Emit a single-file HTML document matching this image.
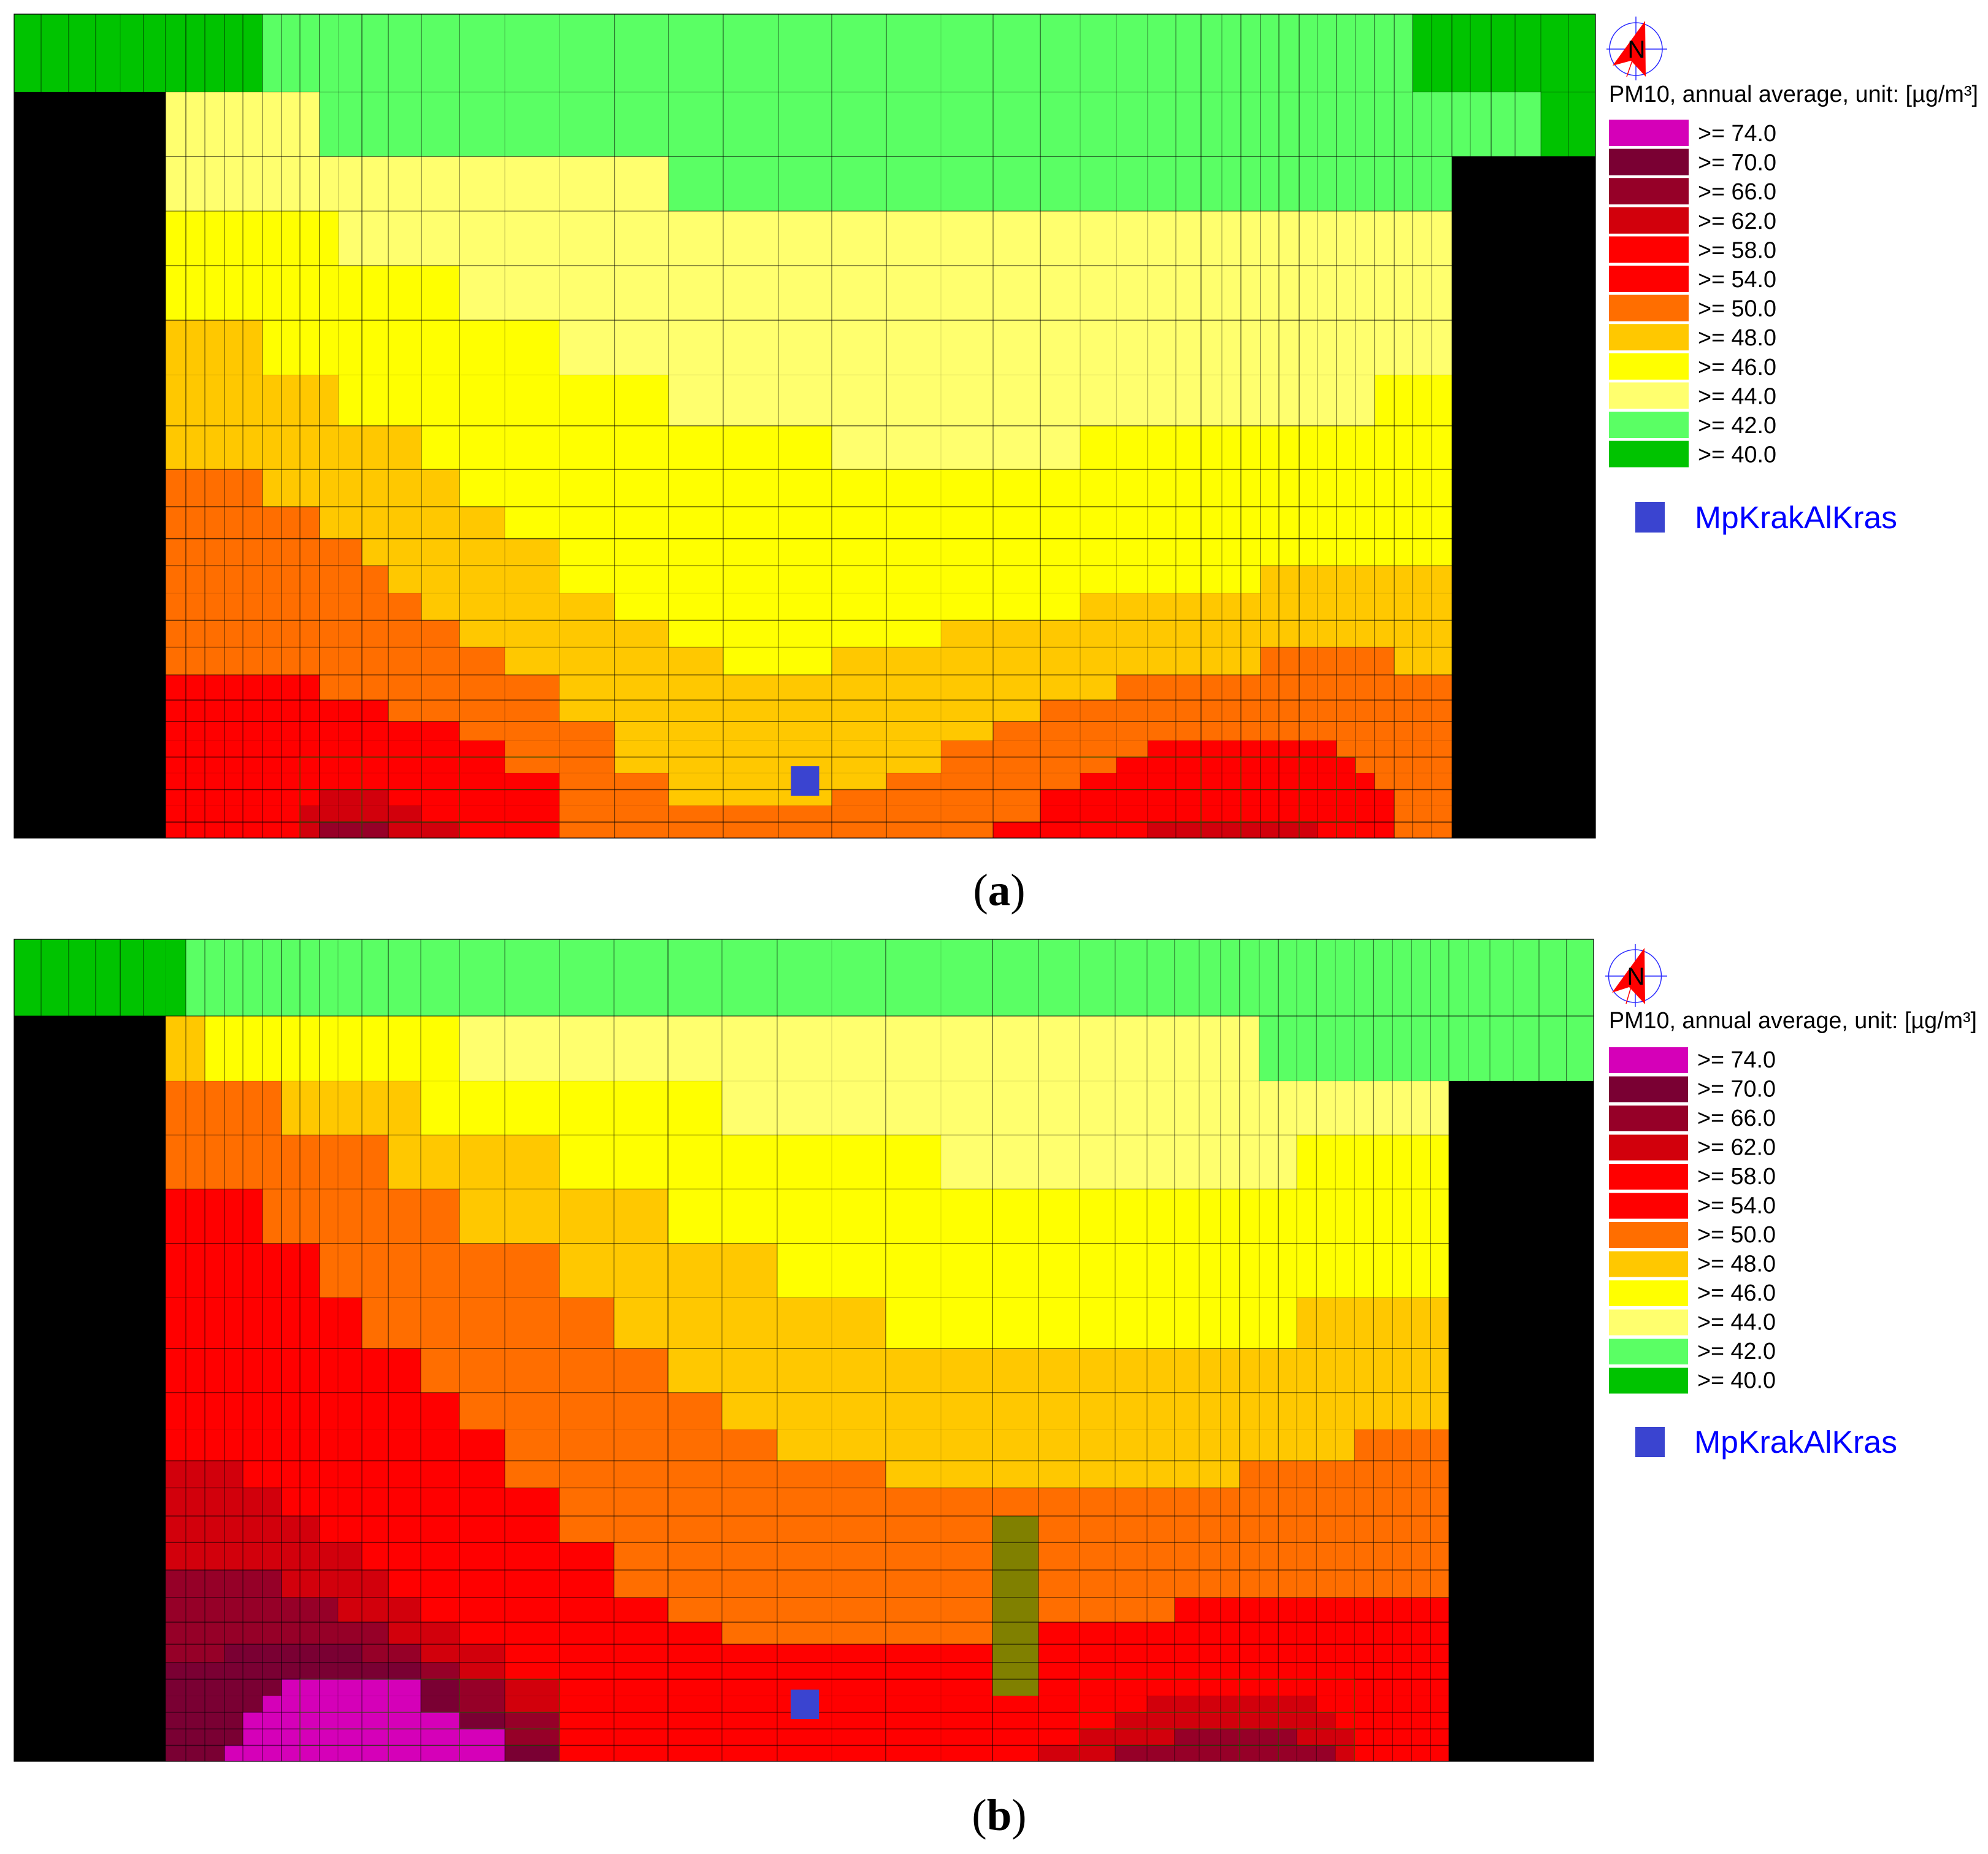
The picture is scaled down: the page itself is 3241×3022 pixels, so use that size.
<!DOCTYPE html>
<html lang="en">
<head>
<meta charset="utf-8">
<title>PM10 annual average maps</title>
<style>
html,body{margin:0;padding:0;background:#fff;}
svg{display:block;}
text{font-family:"Liberation Sans",sans-serif;}
.cap{font-family:"Liberation Serif",serif;font-size:73px;fill:#000;}
</style>
</head>
<body>
<svg id="figure" xmlns="http://www.w3.org/2000/svg" width="3241" height="3022" viewBox="0 0 3241 3022">
  <rect x="0" y="0" width="3241" height="3022" fill="#fff"/>
  <g id="panel-a"></g>
  <g id="panel-b"></g>

  <g id="legend-a">
    <g>
      <ellipse cx="2667" cy="80" rx="43" ry="43" fill="none" stroke="#2a2aff" stroke-width="1.5"/>
      <line x1="2619" y1="80" x2="2718" y2="80" stroke="#2a2aff" stroke-width="1.5"/>
      <line x1="2667" y1="27" x2="2667" y2="131" stroke="#2a2aff" stroke-width="1.5"/>
      <polygon points="2682,34 2629,107 2659,99 2683,125" fill="#ff0000"/>
      <line x1="2661" y1="99" x2="2652" y2="125" stroke="#ff0000" stroke-width="1.5"/>
      <text x="2668" y="94" font-size="40" text-anchor="middle" fill="#000">N</text>
    </g>
    <text x="2623" y="166" font-size="38" textLength="602" lengthAdjust="spacingAndGlyphs" fill="#000">PM10, annual average, unit: [µg/m³]</text>
    <rect x="2666" y="818" width="48" height="50" fill="#3a44d0"/>
    <text x="2763" y="861" font-size="51" textLength="330" lengthAdjust="spacingAndGlyphs" fill="#0000ff">MpKrakAlKras</text>
  </g>

  <g id="legend-b">
    <g>
      <ellipse cx="2665.5" cy="1591" rx="43" ry="43" fill="none" stroke="#2a2aff" stroke-width="1.5"/>
      <line x1="2617" y1="1591" x2="2718" y2="1591" stroke="#2a2aff" stroke-width="1.5"/>
      <line x1="2666" y1="1539" x2="2666" y2="1641" stroke="#2a2aff" stroke-width="1.5"/>
      <polygon points="2681,1545 2628,1618 2656,1609 2682,1637" fill="#ff0000"/>
      <line x1="2659" y1="1609" x2="2651" y2="1636" stroke="#ff0000" stroke-width="1.5"/>
      <text x="2667" y="1605" font-size="40" text-anchor="middle" fill="#000">N</text>
    </g>
    <text x="2623" y="1676" font-size="38" textLength="600" lengthAdjust="spacingAndGlyphs" fill="#000">PM10, annual average, unit: [µg/m³]</text>
    <rect x="2666" y="2326" width="48" height="49" fill="#3a44d0"/>
    <text x="2762" y="2368" font-size="51" textLength="331" lengthAdjust="spacingAndGlyphs" fill="#0000ff">MpKrakAlKras</text>
  </g>

  <text class="cap" x="1629" y="1475" text-anchor="middle">(<tspan font-weight="bold">a</tspan>)</text>
  <text class="cap" x="1629" y="2983" text-anchor="middle">(<tspan font-weight="bold">b</tspan>)</text>
</svg>

<script>
// Class thresholds and their legend labels / colours
const legendLabels = [">= 74.0",">= 70.0",">= 66.0",">= 62.0",">= 58.0",">= 54.0",">= 50.0",">= 48.0",">= 46.0",">= 44.0",">= 42.0",">= 40.0"];
const thresholds = [74,70,66,62,58,54,50,48,46,44,42,40];
const classColors = ["#d500b8","#7a0033","#960028","#d2000c","#ff0000","#ff0000","#ff6e00","#ffc800","#ffff00","#ffff6e","#5aff64","#00c300"];

// Receptor grid coordinates in metres (non-uniform spacing)
const colEdgesA = [0,88,178,266,346,422,494,560,622,686,746,810,872,932,996,1058,1134,1220,1328,1452,1600,1778,1958,2134,2312,2492,2666,2844,3022,3192,3346,3476,3594,3696,3788,3870,3938,4000,4064,4124,4190,4250,4312,4374,4436,4500,4560,4622,4688,4748,4816,4894,4978,5068,5156];
const rowEdgesA = [0,254,464,642,820,998,1176,1342,1484,1606,1710,1798,1888,1976,2064,2154,2236,2306,2368,2422,2474,2528,2580,2634,2686];
const colEdgesB = [0,88,178,266,346,422,494,560,622,686,746,810,872,932,996,1056,1134,1220,1326,1452,1600,1778,1956,2132,2308,2488,2666,2842,3022,3190,3340,3474,3590,3694,3784,3864,3934,3996,4060,4122,4182,4246,4308,4370,4432,4494,4556,4618,4678,4742,4812,4888,4972,5062,5150];
const rowEdgesB = [0,250,462,638,814,992,1168,1334,1478,1598,1700,1788,1880,1966,2056,2146,2226,2298,2358,2412,2466,2520,2574,2628,2680];

// PM10 per row: pairs of (last column index of the run, estimated value). 0 = no data, 1 = excluded cell
const valuesA = [
[10,41,45,43,53,41],
[5,0,13,45,51,43,53,41],
[5,0,22,45,47,43,53,0],
[5,0,14,47,47,45,53,0],
[5,0,18,47,47,45,53,0],
[5,0,10,49,20,47,47,45,53,0],
[5,0,14,49,22,47,43,45,47,47,53,0],
[5,0,17,49,25,47,30,45,47,47,53,0],
[5,0,10,52,18,49,47,47,53,0],
[5,0,13,52,19,49,47,47,53,0],
[5,0,15,52,20,49,47,47,53,0],
[5,0,16,52,20,49,37,47,47,49,53,0],
[5,0,17,52,21,49,30,47,47,49,53,0],
[5,0,18,52,22,49,27,47,47,49,53,0],
[5,0,19,52,23,49,25,47,37,49,44,52,47,49,53,0],
[5,0,13,56,20,52,31,49,47,52,53,0],
[5,0,16,56,20,52,29,49,47,52,53,0],
[5,0,18,56,21,52,28,49,47,52,53,0],
[5,0,19,56,21,52,27,49,32,52,41,56,47,52,53,0],
[5,0,19,56,21,52,27,49,31,52,42,56,47,52,53,0],
[5,0,20,56,22,52,26,49,30,52,43,56,47,52,53,0],
[5,0,13,56,16,64,20,56,22,52,25,49,29,52,44,56,47,52,53,0],
[5,0,12,56,17,64,20,56,29,52,44,56,47,52,53,0],
[5,0,12,56,13,64,16,68,18,64,20,56,28,52,32,56,40,64,44,56,47,52,53,0]
];
const valuesB = [
[6,41,53,43],
[5,0,7,49,18,47,37,45,53,43],
[5,0,11,52,17,49,23,47,47,45,53,0],
[5,0,16,52,20,49,27,47,39,45,47,47,53,0],
[5,0,10,56,18,52,22,49,47,47,53,0],
[5,0,13,56,20,52,24,49,47,47,53,0],
[5,0,15,56,21,52,26,49,39,47,47,49,53,0],
[5,0,17,56,22,52,47,49,53,0],
[5,0,18,56,23,52,47,49,53,0],
[5,0,19,56,24,52,42,49,47,52,53,0],
[5,0,9,64,19,56,26,52,36,49,47,52,53,0],
[5,0,11,64,20,56,47,52,53,0],
[5,0,13,64,20,56,28,52,29,1,47,52,53,0],
[5,0,15,64,21,56,28,52,29,1,47,52,53,0],
[5,0,11,68,16,64,21,56,28,52,29,1,47,52,53,0],
[5,0,14,68,17,64,22,56,28,52,29,1,33,52,47,56,53,0],
[5,0,16,68,18,64,23,56,28,52,29,1,47,56,53,0],
[5,0,8,68,15,72,17,68,19,64,28,56,29,1,47,56,53,0],
[5,0,17,72,18,68,19,64,28,56,29,1,47,56,53,0],
[5,0,11,72,17,76,18,72,19,68,20,64,28,56,29,1,47,56,53,0],
[5,0,10,72,17,76,18,72,19,68,20,64,32,56,40,64,47,56,53,0],
[5,0,9,72,18,76,19,72,20,68,31,56,41,64,47,56,53,0],
[5,0,9,72,19,76,20,68,30,56,33,64,39,68,42,64,47,56,53,0],
[5,0,8,72,19,76,20,72,29,56,31,64,41,68,42,64,47,56,53,0]
];

// Station position in grid metres
const stationA = [2579,2500];
const stationB = [2578,2494];

const SVG_NS = "http://www.w3.org/2000/svg";
const METRES_TO_PX = 0.5;

function colorFor(v){
  if(v === 0) return "#000000";
  if(v === 1) return "#808000";
  for(let i=0;i<thresholds.length;i++){
    if(v >= thresholds[i]) return classColors[i];
  }
  return "#000000";
}

function makeEl(tag, attrs){
  const el = document.createElementNS(SVG_NS, tag);
  for(const k in attrs) el.setAttribute(k, attrs[k]);
  return el;
}

function drawPanel(groupId, left, top, colEdges, rowEdges, values, station, style){
  const group = document.getElementById(groupId);
  const xScale = m => left + m*METRES_TO_PX;
  const yScale = m => top + m*METRES_TO_PX;

  values.forEach((runs,r)=>{
    let col = 0;
    for(let i=0;i<runs.length;i+=2){
      const last = runs[i], v = runs[i+1];
      for(;col<=last;col++){
        const cell = makeEl("rect",{
          x:xScale(colEdges[col]),
          y:yScale(rowEdges[r]),
          width:xScale(colEdges[col+1])-xScale(colEdges[col]),
          height:yScale(rowEdges[r+1])-yScale(rowEdges[r]),
          fill:colorFor(v),
          "shape-rendering":"crispEdges"
        });
        
        
        group.appendChild(cell);
      }
    }
  });

  const bottomM = rowEdges[rowEdges.length-1];
  const rightM = colEdges[colEdges.length-1];

  colEdges.forEach((m,i)=>{
    const alpha = (style.vAlpha[i] !== undefined ? style.vAlpha[i] : 0.7) * 0.85;
    const ln = makeEl("line",{x1:xScale(m),x2:xScale(m),y1:yScale(0),y2:yScale(bottomM),stroke:"#000","stroke-opacity":alpha,"stroke-width":1.1});
    
    
    group.appendChild(ln);
  });
  rowEdges.forEach((m,i)=>{
    const spec = style.hAlpha[i] || [0.75,1.5];
    const ln = makeEl("line",{x1:xScale(0),x2:xScale(rightM),y1:yScale(m),y2:yScale(m),stroke:"#000","stroke-opacity":spec[0]*0.85,"stroke-width":spec[1]*0.75});
    
    
    group.appendChild(ln);
  });

  style.overlay.forEach(o=>{
    o.rows.forEach(r=>{
      const ln = makeEl("line",{x1:xScale(colEdges[o.from]),x2:xScale(colEdges[o.to]),y1:yScale(rowEdges[r]),y2:yScale(rowEdges[r]),stroke:"#2b6b00","stroke-width":1,"stroke-opacity":0.8});
      
      
      group.appendChild(ln);
    });
    o.cols.forEach(c=>{
      const ln = makeEl("line",{x1:xScale(colEdges[c]),x2:xScale(colEdges[c]),y1:yScale(rowEdges[o.rows[0]]),y2:yScale(bottomM),stroke:"#2b6b00","stroke-width":1,"stroke-opacity":0.8});
      
      
      group.appendChild(ln);
    });
  });

  const frame = makeEl("rect",{x:xScale(0),y:yScale(0),width:xScale(rightM)-xScale(0),height:yScale(bottomM)-yScale(0),fill:"none",stroke:"#000","stroke-width":1.2});
  
  
  group.appendChild(frame);

  const marker = makeEl("rect",{x:xScale(station[0])-23,y:yScale(station[1])-24,width:46,height:48,fill:"#3a44d0"});
  
  
  group.appendChild(marker);
}

function drawLegend(groupId, swatchX, swatchW, swatchY, swatchH, pitch, textX, textBase){
  const group = document.getElementById(groupId);
  legendLabels.forEach((label,i)=>{
    const sw = makeEl("rect",{x:swatchX,y:swatchY+i*pitch,width:swatchW,height:swatchH,fill:classColors[i]});
    
    
    group.appendChild(sw);
    const t = makeEl("text",{x:textX,y:textBase+i*pitch,"font-size":38,fill:"#000",textLength:128,lengthAdjust:"spacingAndGlyphs"});
    
    
    t.textContent = label;
    group.appendChild(t);
  });
}

drawPanel("panel-a",23,23,colEdgesA,rowEdgesA,valuesA,stationA,{
  vAlpha:{4:0.25,7:0.95,14:0.9,15:0.3,16:0.95,17:0.8,18:0.7,19:0.7,20:0.25,21:0.3,22:0.95,23:0.8,24:0.8,25:0.6,26:0.8,27:0.8,28:0.15,29:0.8,30:0.95,31:0.35,32:0.4,33:0.5,34:0.6,35:0.95,36:0.45,37:0.85,38:0.7,39:0.85,40:0.95,41:0.45,42:0.8,43:0.55,44:0.8,45:0.9,46:0.7,47:0.5,49:0.5,50:0.9,51:0.6,52:0.5,53:0.5},
  hAlpha:{1:[0.25,1.5],2:[0.95,1.5],3:[0.7,1.5],4:[0.95,1.5],5:[0.55,3],6:[0.08,1.5],7:[0.55,3],8:[0.7,2],9:[0.75,2],10:[0.7,3],11:[0.5,2],12:[0.12,1.5],13:[0.95,1.5],14:[0.5,1.5],15:[0.85,1.5],16:[0.95,1.5],17:[0.95,1.5],18:[0.15,1.5],19:[0.6,2],20:[0.1,1.5],21:[0.6,3],22:[0.12,1.5],23:[0.55,3],24:[0,0]},
  overlay:[{from:13,to:21,rows:[19,21,23],cols:[13,16,19]},{from:31,to:43,rows:[19,21,23],cols:[35,37,40,42,43]}]
});

drawPanel("panel-b",23,1531,colEdgesB,rowEdgesB,valuesB,stationB,{
  vAlpha:{4:0.95,6:0.1,12:0.95,15:0.25,17:0.95,18:0.6,19:0.6,20:0.6,21:0.6,22:0.6,23:0.95,24:0.6,25:0.6,26:0.2,27:0.9,28:0.15,29:0.95,30:0.7,31:0.5,32:0.5,33:0.5,34:0.7,35:0.5,36:0.6,37:0.9,38:0.4,39:0.95,40:0.4,41:0.8,42:0.4,43:0.6,44:0.95,45:0.7,46:0.7,47:0.7,49:0.5,50:0.5,51:0.5,52:0.7,53:0.9},
  hAlpha:{1:[0.95,1.5],2:[0.12,1.5],3:[0.4,1.5],4:[0.4,1.5],5:[0.95,1.5],6:[0.4,1.5],7:[0.95,1.5],8:[0.95,1.5],9:[0.1,1.5],10:[0.95,1.5],11:[0.5,1.5],12:[0.85,1.5],13:[0.9,1.5],14:[0.9,1.5],15:[0.8,1.5],16:[0.9,1.5],17:[0.9,1.5],18:[0.9,1.5],19:[0.9,1.5],20:[0.08,1.5],21:[0.7,1.5],22:[0.7,1.5],23:[0.55,3],24:[0,0]},
  overlay:[{from:13,to:21,rows:[19,21,22,23,24],cols:[13,17,19,21]},{from:31,to:43,rows:[19,21,22,23,24],cols:[31,37,39,43]}]
});

drawLegend("legend-a",2623,130,195,43,47.6,2768,230);
drawLegend("legend-b",2623,129,1707,42,47.5,2767,1740);
</script>
</body>
</html>
